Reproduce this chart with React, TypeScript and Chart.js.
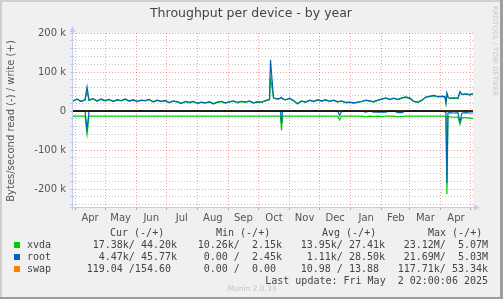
import React, { useEffect, useRef } from "react";
import { Chart, registerables } from "chart.js";

Chart.register(...registerables);

const W = 503;
const H = 299;

const TITLE = "Throughput per device - by year";
const Y_LABEL = "Bytes/second read (-) / write (+)";
const SIDE_TEXT = "RRDTOOL / TOBI OETIKER";
const FOOTER = "Munin 2.0.33";
const LAST_UPDATE = "Last update: Fri May  2 02:00:06 2025";

// day offsets from 2024-04-01
const DAYS = [
  -2, 2, 6, 10, 12, 14, 18, 22, 26, 30,
  34, 38, 42, 46, 50, 54, 58, 62, 66, 70,
  74, 78, 82, 86, 90, 94, 98, 102, 106, 110,
  114, 118, 122, 126, 130, 134, 138, 142, 146, 150,
  154, 158, 162, 166, 170, 174, 178, 182, 186, 190,
  194, 195, 198, 202, 205, 206, 207, 210, 214, 218,
  222, 226, 230, 234, 238, 242, 246, 250, 254, 258,
  262, 264, 266, 270, 274, 278, 282, 286, 290, 294,
  298, 302, 306, 310, 314, 318, 322, 326, 330, 334,
  338, 342, 346, 350, 354, 358, 362, 366, 369, 370,
  371, 372, 374, 378, 382, 384, 386, 390, 394, 397,
];

// values in k (thousands of bytes/second)
const XVDA_WRITE = [
  25, 30, 24, 28, 50, 27, 31, 25, 30, 26,
  29, 24, 28, 26, 30, 25, 28, 24, 27, 26,
  29, 23, 27, 24, 26, 21, 25, 23, 19, 24,
  21, 24, 19, 22, 20, 23, 18, 22, 24, 20,
  23, 25, 21, 24, 22, 25, 20, 23, 22, 26,
  29, 87, 33, 30, 32, 34, 31, 28, 32, 26,
  18, 25, 22, 27, 24, 28, 25, 28, 24, 27,
  23, 24, 25, 21, 22, 20, 22, 24, 27, 25,
  23, 27, 30, 33, 29, 32, 29, 33, 35, 32,
  24, 22, 27, 35, 37, 39, 36, 37, 36, 21,
  44, 35, 32, 33, 32, 48, 42, 43, 41, 44,
];
const XVDA_READ = [
  -13, -13, -13, -13, -59, -13, -13, -13, -13, -13,
  -13, -13, -13, -13, -13, -13, -13, -13, -13, -13,
  -13, -13, -13, -13, -13, -13, -13, -13, -13, -13,
  -13, -13, -13, -13, -13, -13, -13, -13, -13, -13,
  -13, -13, -13, -13, -13, -13, -13, -13, -13, -13,
  -13, -13, -13, -13, -13, -50, -13, -13, -13, -13,
  -13, -13, -13, -13, -13, -13, -13, -13, -13, -13,
  -13, -23, -13, -13, -13, -13, -13, -13, -15, -13,
  -14, -13, -14, -13, -13, -13, -15, -14, -13, -13,
  -13, -13, -13, -13, -13, -13, -13, -13, -13, -13,
  -213, -14, -15, -16, -15, -34, -17, -17, -18, -19,
];
const ROOT_WRITE = [
  26, 31, 25, 29, 62, 28, 32, 26, 31, 27,
  30, 25, 29, 27, 31, 26, 29, 25, 28, 27,
  30, 24, 28, 25, 27, 22, 26, 24, 20, 25,
  22, 25, 20, 23, 21, 24, 19, 23, 25, 21,
  24, 26, 22, 25, 23, 26, 21, 24, 23, 27,
  30, 131, 34, 31, 33, 35, 32, 29, 33, 27,
  19, 26, 23, 28, 25, 29, 26, 29, 25, 28,
  24, 25, 26, 22, 23, 21, 23, 25, 28, 26,
  24, 28, 31, 34, 30, 33, 30, 34, 36, 33,
  25, 23, 28, 36, 38, 40, 37, 38, 37, 20,
  46, 36, 33, 34, 33, 50, 43, 44, 42, 45,
];
const ROOT_READ = [
  0, 0, 0, 0, -46, 0, 0, 0, 0, 0,
  0, 0, 0, 0, 0, 0, 0, 0, 0, 0,
  0, 0, 0, 0, 0, 0, 0, 0, 0, 0,
  0, 0, 0, 0, 0, 0, 0, 0, 0, 0,
  0, 0, 0, 0, 0, 0, 0, 0, 0, 0,
  0, 0, 0, 0, 0, -31, 0, 0, 0, 0,
  0, 0, 0, 0, 0, 0, 0, 0, 0, 0,
  0, -12, 0, 0, 0, 0, 0, 0, -3, 0,
  -3, -3, -2, -3, 0, 0, -4, -4, 0, 0,
  0, 0, 0, 0, 0, 0, 0, 0, -2, -3,
  -185, -5, -4, -5, -4, -27, -5, -4, -5, -5,
];
const SWAP_DAYS = [-2, 100, 200, 300, 397];
const SWAP_WRITE = [0.01, 0.02, 0.01, 0.01, 0.15];
const SWAP_READ = [-0.01, -0.01, -0.02, -0.01, -0.12];

const MONTH_STARTS = [0, 30, 61, 91, 122, 153, 183, 214, 244, 275, 306, 334, 365, 395];
const MONTH_LABELS = ["Apr", "May", "Jun", "Jul", "Aug", "Sep", "Oct", "Nov", "Dec", "Jan", "Feb", "Mar", "Apr"];
const X_MIN = -2;
const X_MAX = 397;
const Y_MIN = -246;
const Y_MAX = 200;
const Y_MINOR = 20;
const Y_MAJOR = 100;

const SERIES_NAMES = ["xvda", "root", "swap"];
const SERIES_COLORS = ["#00cc00", "#0066b3", "#ff8000"];
const LEGEND_HEADERS = ["Cur (-/+)", "Min (-/+)", "Avg (-/+)", "Max (-/+)"];
const STATS = [
  ["17.38k/ 44.20k", "10.26k/  2.15k", "13.95k/ 27.41k", "23.12M/  5.07M"],
  ["4.47k/ 45.77k", "0.00 /  2.45k", "1.11k/ 28.50k", "21.69M/  5.03M"],
  ["119.04 /154.60 ", "0.00 /  0.00 ", "10.98 / 13.88 ", "117.71k/ 53.34k"],
];

const MAJOR_GRID = "rgba(229,0,0,0.38)";
const MINOR_GRID = "rgba(128,128,128,0.42)";
const AXIS_COLOR = "#c4cbf2";
const TEXT_COLOR = "#444";
const SANS = "'DejaVu Sans', sans-serif";
const MONO = "'DejaVu Sans Mono', monospace";

const midLabels = new Map<number, string>();
MONTH_LABELS.forEach((l, i) => midLabels.set((MONTH_STARTS[i] + MONTH_STARTS[i + 1]) / 2, l));
const monthSet = new Set(MONTH_STARTS);

const muninPlugin = {
  id: "munin",
  beforeDraw(chart: any) {
    const { ctx, chartArea: a } = chart;
    ctx.save();
    ctx.fillStyle = "#f0f0f0";
    ctx.fillRect(0, 0, W, H);
    ctx.fillStyle = "#cfcfcf";
    ctx.fillRect(0, 0, W, 2);
    ctx.fillRect(0, 0, 2, H);
    ctx.fillStyle = "#9e9e9e";
    ctx.fillRect(0, H - 2, W, 2);
    ctx.fillRect(W - 3, 0, 3, H);
    ctx.fillStyle = "#ffffff";
    ctx.fillRect(a.left, a.top, a.right - a.left, a.bottom - a.top);
    ctx.restore();
  },
  afterDatasetsDraw(chart: any) {
    const { ctx, chartArea: a, scales } = chart;
    const y0 = Math.round(scales.y.getPixelForValue(0));
    ctx.save();
    ctx.strokeStyle = "#000";
    ctx.lineWidth = 1.5;
    ctx.beginPath();
    ctx.moveTo(a.left, y0);
    ctx.lineTo(a.right, y0);
    ctx.stroke();
    ctx.restore();
  },
  afterDraw(chart: any) {
    const { ctx, chartArea: a } = chart;
    ctx.save();
    // axes with arrows
    ctx.strokeStyle = AXIS_COLOR;
    ctx.fillStyle = AXIS_COLOR;
    ctx.lineWidth = 1;
    const ax = a.left - 0.5;
    const ay = a.bottom + 0.5;
    ctx.beginPath();
    ctx.moveTo(ax, a.bottom + 3);
    ctx.lineTo(ax, a.top - 2);
    ctx.moveTo(a.left - 3, ay);
    ctx.lineTo(a.right + 2, ay);
    ctx.stroke();
    ctx.beginPath();
    ctx.moveTo(ax - 3, a.top - 1);
    ctx.lineTo(ax + 3, a.top - 1);
    ctx.lineTo(ax, a.top - 7);
    ctx.closePath();
    ctx.fill();
    ctx.beginPath();
    ctx.moveTo(a.right + 1, ay - 3);
    ctx.lineTo(a.right + 1, ay + 3);
    ctx.lineTo(a.right + 7, ay);
    ctx.closePath();
    ctx.fill();

    // title
    ctx.fillStyle = TEXT_COLOR;
    ctx.font = `12.5px ${SANS}`;
    ctx.textAlign = "center";
    ctx.textBaseline = "middle";
    ctx.fillText(TITLE, 251, 14);

    // y label
    ctx.save();
    ctx.translate(11, 121);
    ctx.rotate(-Math.PI / 2);
    ctx.font = `10px ${SANS}`;
    ctx.fillStyle = "#555";
    ctx.fillText(Y_LABEL, 0, 0);
    ctx.restore();

    // side text
    ctx.save();
    ctx.translate(495, 6);
    ctx.rotate(Math.PI / 2);
    ctx.font = `7px ${SANS}`;
    ctx.fillStyle = "#c8c8c8";
    ctx.textAlign = "left";
    ctx.fillText(SIDE_TEXT, 0, 0);
    ctx.restore();

    // legend table
    ctx.font = `10px ${MONO}`;
    ctx.fillStyle = TEXT_COLOR;
    ctx.textBaseline = "middle";
    ctx.textAlign = "left";
    const headerX = [110, 216, 322, 428];
    LEGEND_HEADERS.forEach((h, i) => ctx.fillText(h, headerX[i], 233));
    const colRight = [177, 282, 385, 488];
    const rowY = [245, 257, 269];
    SERIES_NAMES.forEach((name, r) => {
      ctx.fillStyle = SERIES_COLORS[r];
      ctx.fillRect(14, rowY[r] - 3, 6, 6);
      ctx.fillStyle = TEXT_COLOR;
      ctx.textAlign = "left";
      ctx.fillText(name, 27, rowY[r]);
      ctx.textAlign = "right";
      STATS[r].forEach((s, c) => ctx.fillText(s, colRight[c], rowY[r]));
    });
    ctx.textAlign = "right";
    ctx.fillText(LAST_UPDATE, 488, 281);

    ctx.textAlign = "center";
    ctx.font = `7.5px ${SANS}`;
    ctx.fillStyle = "#c4c4c4";
    ctx.fillText(FOOTER, 252, 289);
    ctx.restore();
  },
};

function pts(xs: number[], ys: number[]) {
  return xs.map((x, i) => ({ x, y: ys[i] }));
}

export default function App() {
  const ref = useRef<HTMLCanvasElement | null>(null);
  useEffect(() => {
    document.body.style.margin = "0";
    const canvas = ref.current;
    if (!canvas) return;
    const line = (label: string, data: any[], color: string, order: number, width: number) => ({
      label,
      data,
      borderColor: color,
      backgroundColor: color,
      borderWidth: width,
      pointRadius: 0,
      tension: 0,
      fill: false,
      order,
    });
    const chart = new Chart(canvas, {
      type: "line",
      data: {
        datasets: [
          line("xvda write", pts(DAYS, XVDA_WRITE), SERIES_COLORS[0], 2, 1.2),
          line("xvda read", pts(DAYS, XVDA_READ), SERIES_COLORS[0], 2, 1.2),
          line("root write", pts(DAYS, ROOT_WRITE), SERIES_COLORS[1], 1, 1.2),
          line("root read", pts(DAYS, ROOT_READ), SERIES_COLORS[1], 1, 1.2),
          line("swap write", pts(SWAP_DAYS, SWAP_WRITE), SERIES_COLORS[2], 3, 1),
          line("swap read", pts(SWAP_DAYS, SWAP_READ), SERIES_COLORS[2], 3, 1),
        ],
      },
      options: {
        responsive: false,
        animation: false,
        devicePixelRatio: 1,
        layout: { padding: { left: 0, top: 33, right: 30, bottom: 72 } },
        plugins: {
          legend: { display: false },
          tooltip: { enabled: false },
        },
        scales: {
          x: {
            type: "linear",
            min: X_MIN,
            max: X_MAX,
            afterBuildTicks: (s: any) => {
              const vals = [...MONTH_STARTS, ...Array.from(midLabels.keys())].sort((p, q) => p - q);
              s.ticks = vals.map((v) => ({ value: v }));
            },
            afterFit: (s: any) => {
              s.height = 20;
            },
            grid: {
              color: (c: any) => (c.tick && monthSet.has(c.tick.value) ? MAJOR_GRID : "transparent"),
              tickColor: (c: any) => (c.tick && monthSet.has(c.tick.value) ? MAJOR_GRID : "transparent"),
              lineWidth: 1,
              drawTicks: true,
              tickLength: 3,
              tickBorderDash: [],
            },
            border: { display: false, dash: [1, 2] },
            ticks: {
              autoSkip: false,
              maxRotation: 0,
              minRotation: 0,
              padding: 2,
              color: "#555",
              font: { family: SANS, size: 10 },
              callback: (v: any) => midLabels.get(Number(v)) ?? "",
            },
          },
          y: {
            type: "linear",
            min: Y_MIN,
            max: Y_MAX,
            afterBuildTicks: (s: any) => {
              const t: any[] = [];
              for (let v = Math.ceil(Y_MIN / Y_MINOR) * Y_MINOR; v <= Y_MAX; v += Y_MINOR) t.push({ value: v });
              s.ticks = t;
            },
            afterFit: (s: any) => {
              s.width = 73;
            },
            grid: {
              color: (c: any) => (c.tick && c.tick.value % Y_MAJOR === 0 ? MAJOR_GRID : MINOR_GRID),
              tickColor: AXIS_COLOR,
              lineWidth: 1,
              drawTicks: true,
              tickLength: 3,
              tickBorderDash: [],
            },
            border: { display: false, dash: [1, 2] },
            ticks: {
              autoSkip: false,
              padding: 4,
              color: "#555",
              font: { family: SANS, size: 10 },
              callback: (v: any) => {
                const n = Number(v);
                if (n % Y_MAJOR !== 0) return "";
                return n === 0 ? "0" : `${n} k`;
              },
            },
          },
        },
      },
      plugins: [muninPlugin],
    } as any);
    return () => chart.destroy();
  }, []);
  return <canvas ref={ref} width={W} height={H} style={{ display: "block" }} />;
}
